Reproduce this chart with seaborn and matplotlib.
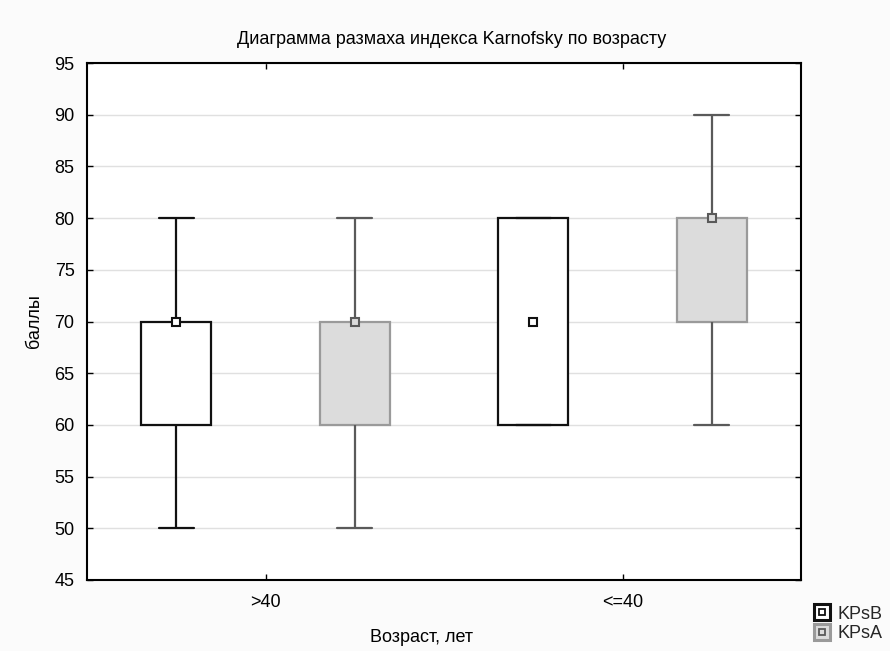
import matplotlib
matplotlib.use("Agg")
import matplotlib.pyplot as plt
from matplotlib.lines import Line2D
import seaborn as sns
import pandas as pd

# ---- data ----
groups = [">40", "<=40"]
series = ["KPsB", "KPsA"]
# five-number summaries per series, one value per group (min, q1, median, q3, max)
kpsb_min = [50, 60]
kpsb_q1 = [60, 60]
kpsb_med = [70, 70]
kpsb_q3 = [70, 80]
kpsb_max = [80, 80]
kpsa_min = [50, 60]
kpsa_q1 = [60, 70]
kpsa_med = [70, 80]
kpsa_q3 = [70, 80]
kpsa_max = [80, 90]
yticks = [45, 50, 55, 60, 65, 70, 75, 80, 85, 90, 95]

title = "Диаграмма размаха индекса Karnofsky по возрасту"
xlabel = "Возраст, лет"
ylabel = "баллы"

# build a long table whose quartiles reproduce the summaries exactly
rows = []
summ = {
    "KPsB": [kpsb_min, kpsb_q1, kpsb_med, kpsb_q3, kpsb_max],
    "KPsA": [kpsa_min, kpsa_q1, kpsa_med, kpsa_q3, kpsa_max],
}
for s in series:
    for gi, g in enumerate(groups):
        for arr in summ[s]:
            rows.append({"group": g, "series": s, "value": arr[gi]})
df = pd.DataFrame(rows)

sns.set_theme(style="white")
plt.rcParams["font.family"] = ["Liberation Sans", "DejaVu Sans"]
FS = 13
plt.rcParams["font.size"] = FS

fig = plt.figure(figsize=(8.9, 6.51), dpi=100, facecolor="#fbfbfb")
ax = fig.add_axes([87 / 890, 71 / 651, 714 / 890, 517 / 651])
ax.set_facecolor("white")

fills = {"KPsB": "#ffffff", "KPsA": "#dcdcdc"}
edges = {"KPsB": "#111111", "KPsA": "#9a9a9a"}
whisk = {"KPsB": "#111111", "KPsA": "#5a5a5a"}

for s in series:
    sub = df[df["series"] == s]
    sns.boxplot(
        data=sub, x="group", y="value", hue="series",
        order=groups, hue_order=series, palette=fills, dodge=True,
        width=1.0, gap=0.61, whis=(0, 100), showfliers=False,
        linecolor=edges[s], linewidth=1.6,
        whiskerprops={"color": whisk[s]}, capprops={"color": whisk[s]},
        medianprops={"linewidth": 0},
        legend=False, ax=ax,
    )
for s in series:
    sub = df[df["series"] == s]
    sns.pointplot(
        data=sub, x="group", y="value", hue="series",
        order=groups, hue_order=series, palette=whisk,
        estimator="median", errorbar=None, dodge=0.5,
        marker="s", linestyle="none", markersize=6,
        markerfacecolor=fills[s], markeredgewidth=1.5,
        legend=False, ax=ax,
    )
for l in ax.lines:
    if l.get_marker() == "s":
        l.set_zorder(5)

ax.set_xlim(-0.5, 1.5)
ax.set_ylim(45, 95)
ax.set_yticks(yticks)
ax.yaxis.grid(True, color="#e0e0e0", linewidth=1.0)
ax.set_axisbelow(True)
for sp in ax.spines.values():
    sp.set_visible(True)
    sp.set_color("black")
    sp.set_linewidth(1.5)
    sp.set_zorder(6)
ax.tick_params(axis="both", direction="in", length=4, width=1, color="black",
               top=True, right=True, bottom=True, left=True,
               labelsize=FS, labelcolor="black")
ax.tick_params(axis="x", pad=10)
ax.tick_params(axis="y", pad=9)

ax.set_title(title, fontsize=FS, pad=14, color="black", x=0.51)
ax.set_xlabel(xlabel, fontsize=FS, color="black")
ax.xaxis.set_label_coords(0.469, -0.095)
ax.set_ylabel(ylabel, fontsize=FS, labelpad=8, color="black")

handles = []
for s in series:
    big = Line2D([], [], linestyle="none", marker="s", markersize=11,
                 markerfacecolor=fills[s], markeredgecolor=edges[s],
                 markeredgewidth=2.2)
    small = Line2D([], [], linestyle="none", marker="s", markersize=5,
                   markerfacecolor=fills[s], markeredgecolor=whisk[s],
                   markeredgewidth=1.3)
    handles.append((big, small))
fig.legend(handles, series, loc="lower left",
           bbox_to_anchor=(800 / 890, -4 / 651), frameon=False,
           fontsize=FS, handlelength=1.0, handletextpad=0.4,
           labelspacing=0.15, borderpad=0.2)

fig.savefig("out.png", dpi=100, facecolor=fig.get_facecolor())
